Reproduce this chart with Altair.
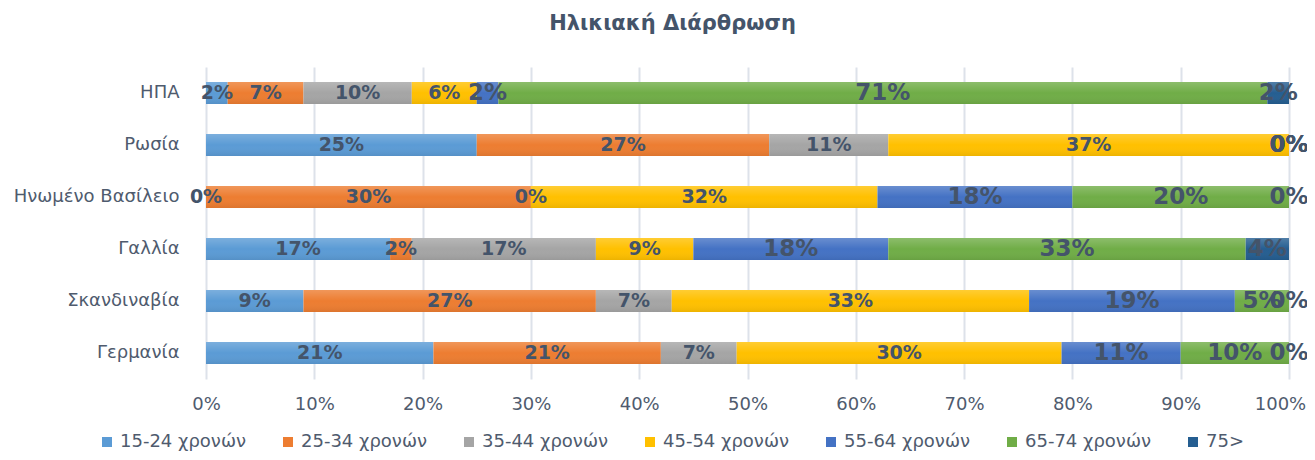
import altair as alt
import pandas as pd

countries = ["ΗΠΑ", "Ρωσία", "Ηνωμένο Βασίλειο", "Γαλλία", "Σκανδιναβία", "Γερμανία"]
series = ["15-24 χρονών", "25-34 χρονών", "35-44 χρονών", "45-54 χρονών",
          "55-64 χρονών", "65-74 χρονών", "75>"]
colors = ["#5B9BD5", "#ED7D31", "#A5A5A5", "#FFC000", "#4472C4", "#70AD47", "#255E91"]

# percentages per country, in series order
usa = [2, 7, 10, 6, 2, 71, 2]
russia = [25, 27, 11, 37, 0, 0, 0]
uk = [0, 30, 0, 32, 18, 20, 0]
france = [17, 2, 17, 9, 18, 33, 4]
scandinavia = [9, 27, 7, 33, 19, 5, 0]
germany = [21, 21, 7, 30, 11, 10, 0]

values = [usa, russia, uk, france, scandinavia, germany]
rows = []
for c, vals in zip(countries, values):
    for i, (s, v) in enumerate(zip(series, vals)):
        rows.append({"country": c, "series": s, "idx": i, "value": v / 100.0})
df = pd.DataFrame(rows)

FONT = "DejaVu Sans"
AXIS = "#4F5B6E"
LABEL = "#44546A"

base = alt.Chart(df).transform_stack(
    stack="value", groupby=["country"], as_=["x0", "x1"],
    sort=[alt.SortField("idx", order="ascending")]
).transform_calculate(
    mid="(datum.x0 + datum.x1) / 2",
    lbl="format(datum.value, '.0%')",
    big="datum.idx >= 4 ? 23 : 19"
)

yenc = alt.Y("country:N", sort=countries, title=None,
             scale=alt.Scale(paddingInner=0.577, paddingOuter=0.2885),
             axis=alt.Axis(labelFont=FONT, labelFontSize=18, labelColor=AXIS,
                           ticks=False, domain=False, labelPadding=27))

xenc = alt.X("x0:Q", scale=alt.Scale(domain=[0, 1]), title=None,
             axis=alt.Axis(format=".0%", values=[i / 10 for i in range(11)],
                           labelFont=FONT, labelFontSize=18, labelColor=AXIS,
                           labelFlush=False, ticks=False, domain=False, grid=True,
                           labelOffset=alt.ExprRef("datum.value == 1 ? -9 : 0"),
                           gridColor="#DDE2EA", gridWidth=2, labelPadding=16))

bars = base.mark_bar().encode(
    x=xenc,
    x2="x1:Q",
    y=yenc,
    color=alt.Color("series:N", sort=series,
                    scale=alt.Scale(domain=series, range=colors),
                    legend=alt.Legend(title=None, orient="none", direction="horizontal",
                                      columns=7, legendX=-108, legendY=366,
                                      symbolType="square", symbolSize=100,
                                      symbolStrokeWidth=0, labelFont=FONT,
                                      labelFontSize=18, labelColor=AXIS,
                                      labelOffset=4, columnPadding=32,
                                      gridAlign="all")),
    order=alt.Order("idx:Q"),
)

shade = base.mark_bar(
    color=alt.LinearGradient(
        gradient="linear", x1=0, x2=0, y1=0, y2=1,
        stops=[alt.GradientStop(offset=0, color="rgba(255,255,255,0.2)"),
               alt.GradientStop(offset=0.5, color="rgba(255,255,255,0.0)"),
               alt.GradientStop(offset=1, color="rgba(0,0,0,0.07)")])
).encode(
    x="x0:Q", x2="x1:Q", y=alt.Y("country:N", sort=countries),
)

labels = base.mark_text(font=FONT, fontWeight="bold", color=LABEL, baseline="middle",
                        align="center").encode(
    x="mid:Q",
    y=alt.Y("country:N", sort=countries),
    text="lbl:N",
    size=alt.Size("big:Q", scale=None),
)

chart = alt.layer(bars, shade, labels).properties(
    width=1083, height=312,
    title=alt.TitleParams("Ηλικιακή Διάρθρωση", font=FONT, fontSize=21,
                          fontWeight="bold", color=LABEL, anchor="middle",
                          dx=-75, offset=33),
    autosize=alt.AutoSizeParams(type="none"),
    padding={"left": 198, "top": 59, "right": 18, "bottom": 73},
).configure_view(stroke=None)

chart.save("out.html", embed_options={"renderer": "svg", "actions": False})
